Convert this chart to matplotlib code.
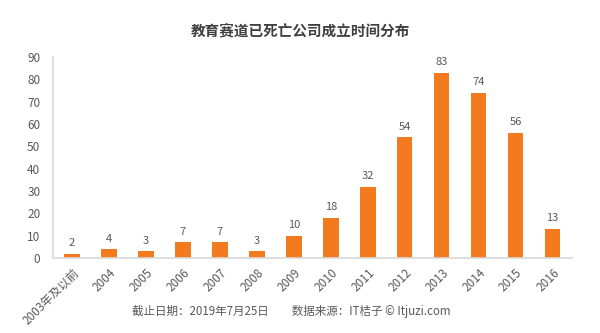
import matplotlib
matplotlib.use("Agg")
import matplotlib.pyplot as plt

plt.rcParams['font.family'] = ['Noto Sans CJK SC', 'DejaVu Sans']

categories = ["2003年及以前", "2004", "2005", "2006", "2007", "2008", "2009",
              "2010", "2011", "2012", "2013", "2014", "2015", "2016"]
values = [2, 4, 3, 7, 7, 3, 10, 18, 32, 54, 83, 74, 56, 13]
yticks = [0, 10, 20, 30, 40, 50, 60, 70, 80, 90]

title = "教育赛道已死亡公司成立时间分布"
footer = "截止日期：2019年7月25日　　数据来源：IT桔子 © Itjuzi.com"

bar_color = "#F47A20"
text_color = "#595959"
axis_color = "#D9D9D9"

fig = plt.figure(figsize=(6, 3.33), dpi=100)
ax = fig.add_axes([0.088, 0.225, 0.865, 0.604])

x = list(range(len(categories)))
bars = ax.bar(x, values, width=0.42, color=bar_color, zorder=2)
for xi, v in zip(x, values):
    ax.annotate(str(v), (xi, v), xytext=(0, 4), textcoords="offset points",
                ha="center", va="bottom", fontsize=8, color=text_color)

ax.set_xlim(-0.52, len(categories) - 0.48)
ax.set_ylim(0, 90)
ax.set_yticks(yticks)
ax.set_yticklabels([str(t) for t in yticks], fontsize=8.5, color=text_color)
ax.set_xticks(x)
ax.set_xticklabels(categories, rotation=45, ha="right", rotation_mode="anchor",
                   fontsize=8.5, color=text_color)
ax.tick_params(axis="x", length=0, pad=6)
ax.tick_params(axis="y", length=0, pad=9)

for s in ["top", "right"]:
    ax.spines[s].set_visible(False)
for s in ["left", "bottom"]:
    ax.spines[s].set_color(axis_color)
    ax.spines[s].set_linewidth(1.2)

fig.text(0.5, 0.91, title, ha="center", va="center", fontsize=10.5,
         fontweight="bold", color="#404040")
fig.text(0.485, 0.066, footer, ha="center", va="center", fontsize=8.3,
         color=text_color)

fig.savefig("out.png", dpi=100)
